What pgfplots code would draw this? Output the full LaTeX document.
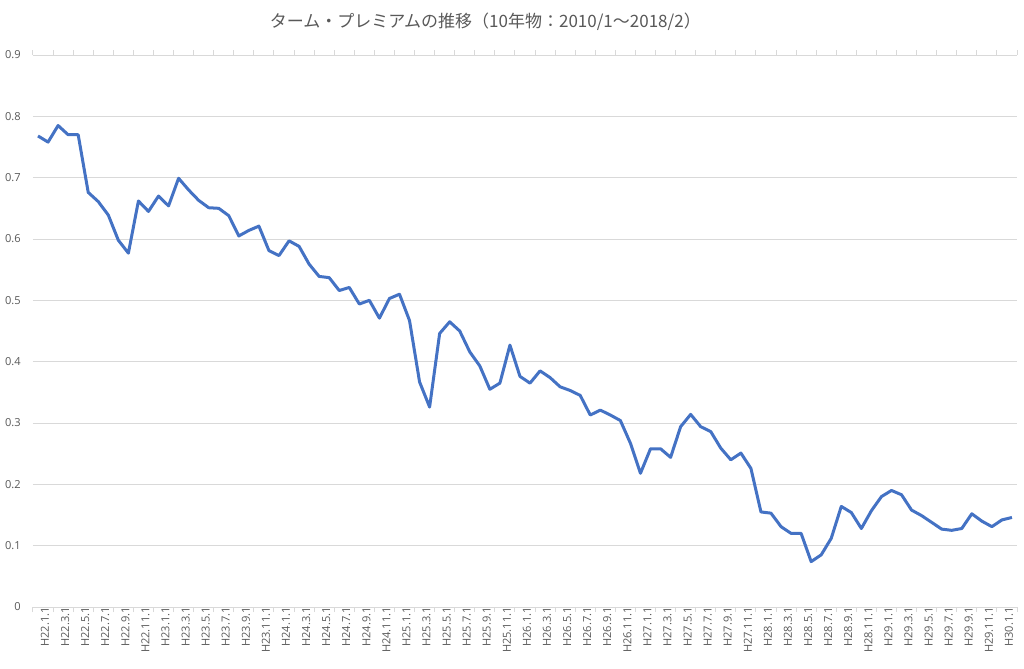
\documentclass[border=0pt]{standalone}
\usepackage{fontspec}
\setmainfont{Open Sans}
\newfontfamily\cjk{Noto Sans CJK JP}
\usepackage{pgfplots}
\pgfplotsset{compat=1.18}
\definecolor{linecol}{HTML}{4472C4}
\definecolor{gridcol}{HTML}{D9D9D9}
\definecolor{txtcol}{HTML}{595959}
\begin{document}
\begin{tikzpicture}
\path[use as bounding box, fill=white] (0,0) rectangle (768pt,501pt);
\node[text=txtcol, font=\cjk\fontsize{12.75pt}{15pt}\selectfont, inner sep=0pt] at (364pt,485pt) {ターム・プレミアムの推移（10年物：2010/1～2018/2）};
\begin{axis}[
  at={(24.75pt,45.75pt)}, anchor=south west,
  scale only axis, width=738pt, height=414pt,
  xmin=-0.5, xmax=97.5, ymin=0, ymax=0.9,
  ytick={0,0.1,0.2,0.3,0.4,0.5,0.6,0.7,0.8,0.9},
  xtick={0,2,...,96},
  xticklabels={H22.1.1,H22.3.1,H22.5.1,H22.7.1,H22.9.1,H22.11.1,
    H23.1.1,H23.3.1,H23.5.1,H23.7.1,H23.9.1,H23.11.1,
    H24.1.1,H24.3.1,H24.5.1,H24.7.1,H24.9.1,H24.11.1,
    H25.1.1,H25.3.1,H25.5.1,H25.7.1,H25.9.1,H25.11.1,
    H26.1.1,H26.3.1,H26.5.1,H26.7.1,H26.9.1,H26.11.1,
    H27.1.1,H27.3.1,H27.5.1,H27.7.1,H27.9.1,H27.11.1,
    H28.1.1,H28.3.1,H28.5.1,H28.7.1,H28.9.1,H28.11.1,
    H29.1.1,H29.3.1,H29.5.1,H29.7.1,H29.9.1,H29.11.1,
    H30.1.1},
  minor xtick={-0.5,1.5,...,97.5},
  axis line style={draw=none},
  ymajorgrids=true,
  grid style={gridcol, line width=0.75pt},
  major tick length=0pt, minor tick length=3.75pt, tick align=outside,
  minor tick style={gridcol, line width=0.75pt},
  ytick style={draw=none},
  xticklabel style={rotate=90, anchor=east, font=\fontsize{8.3pt}{10pt}\selectfont, text=txtcol, inner sep=0pt, yshift=-5.25pt},
  yticklabel style={font=\fontsize{8.3pt}{10pt}\selectfont, text=txtcol, inner sep=0pt, xshift=-9pt,
    /pgf/number format/.cd, fixed, precision=1, assume math mode=true},
]
\addplot[linecol, line width=2.25pt, line join=round, no marks] coordinates {
(0,0.768) (1,0.758) (2,0.785) (3,0.770) (4,0.770) (5,0.676) (6,0.661) (7,0.639) (8,0.598) (9,0.577)
(10,0.662) (11,0.645) (12,0.670) (13,0.654) (14,0.699) (15,0.680) (16,0.663) (17,0.651) (18,0.650) (19,0.638)
(20,0.605) (21,0.614) (22,0.621) (23,0.581) (24,0.573) (25,0.597) (26,0.588) (27,0.559) (28,0.539) (29,0.537)
(30,0.516) (31,0.521) (32,0.494) (33,0.500) (34,0.471) (35,0.503) (36,0.510) (37,0.467) (38,0.367) (39,0.326)
(40,0.446) (41,0.465) (42,0.450) (43,0.416) (44,0.393) (45,0.355) (46,0.365) (47,0.427) (48,0.376) (49,0.365)
(50,0.385) (51,0.374) (52,0.359) (53,0.353) (54,0.345) (55,0.313) (56,0.321) (57,0.313) (58,0.304) (59,0.267)
(60,0.218) (61,0.258) (62,0.258) (63,0.244) (64,0.294) (65,0.314) (66,0.294) (67,0.286) (68,0.259) (69,0.240)
(70,0.251) (71,0.226) (72,0.155) (73,0.153) (74,0.131) (75,0.120) (76,0.120) (77,0.074) (78,0.085) (79,0.112)
(80,0.164) (81,0.154) (82,0.128) (83,0.157) (84,0.180) (85,0.190) (86,0.183) (87,0.158) (88,0.149) (89,0.138)
(90,0.127) (91,0.125) (92,0.128) (93,0.152) (94,0.140) (95,0.131) (96,0.142) (97,0.146)
};
\end{axis}
\end{tikzpicture}
\end{document}
